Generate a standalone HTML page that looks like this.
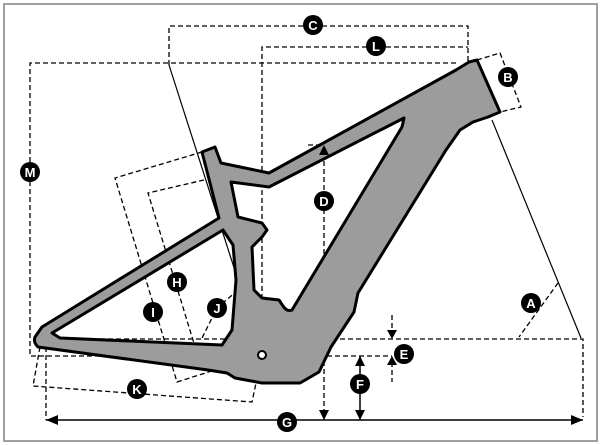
<!DOCTYPE html>
<html><head><style>body{margin:0;background:#fff}svg{display:block}</style></head><body>
<svg width="601" height="445" viewBox="0 0 601 445" xmlns="http://www.w3.org/2000/svg" font-family="Liberation Sans, sans-serif">
<rect x="4" y="4" width="593" height="437" fill="#fff" stroke="#a0a0a0" stroke-width="2"/>
<g fill="none" stroke="#000" stroke-width="1.3" stroke-dasharray="5,3">
<polyline points="169,65 169,26 468,26 468,62"/>
<polyline points="262,355 262,47 468,47"/>
<polyline points="456,63 30,63 30,356 392,356"/>
<polyline points="44,339 583,339 583,417"/>
<line x1="46" y1="339" x2="46" y2="420"/>
<line x1="308" y1="145" x2="324" y2="145"/>
<line x1="324" y1="145" x2="324" y2="420"/>
<line x1="392" y1="315" x2="392" y2="334"/>
<line x1="392" y1="362" x2="392" y2="382"/>
<line x1="558" y1="283" x2="519" y2="337"/>
<polyline points="477,60 500,53 521,107 500,112"/>
<polyline points="202,152 115,178 177,382 262,355"/>
<polyline points="204,180 148,193 200,363"/>
<polyline points="238,290 217,308 202,338"/>
<polyline points="40,347 33,386 252,402 262,355"/>
</g>
<g stroke="#000" stroke-width="1.2">
<line x1="169" y1="65" x2="262" y2="355"/>
<line x1="492" y1="120" x2="581" y2="338"/>
</g>
<path fill-rule="evenodd" fill="#9c9c9c" stroke="#000" stroke-width="3" stroke-linejoin="round"
d="M202,152 L215,147 L221,163 L269,173 L456,70 L469,62 L477,60 L500,112 L488,117 L473,122 L460,130 L446,150 L358,293 L354,312 L331,347 L319,372 L300,383 L262,383 L235,378 L227,373 L208,370 L38,347 Q33,342 35,337 L42,327 L219,218 Z
M52,333 L223,230 L233,245 L236,280 L232,330 L222,345 L60,338 Z
M231,182 L269,187 L404,118 L402,127 L292,310 Q287,312 283,306 L279,300 L262,298 L254,290 L252,247 L262,237 L267,230 L262,223 L238,217 Z"/>
<circle cx="262" cy="355" r="4" fill="#fff" stroke="#000" stroke-width="2"/>
<g stroke="#000" stroke-width="1.5" fill="#000">
<line x1="46" y1="420" x2="583" y2="420"/>
<path d="M46,420 l12,-5 v10z M583,420 l-12,-5 v10z" stroke="none"/>
<path d="M324,145 l-5,10 h10z M324,420 l-5,-10 h10z" stroke="none"/>
<line x1="360" y1="356" x2="360" y2="420"/>
<path d="M360,356 l-5,10 h10z M360,420 l-5,-10 h10z" stroke="none"/>
<path d="M392,339 l-5,-9 h10z M392,356 l-5,9 h10z" stroke="none"/>
</g>
<g fill="#000"><circle cx="313" cy="25" r="10"/><circle cx="376" cy="46" r="10"/><circle cx="508" cy="77" r="10"/><circle cx="30" cy="172" r="10"/><circle cx="324" cy="201" r="10"/><circle cx="177" cy="282" r="10"/><circle cx="153" cy="312" r="10"/><circle cx="217" cy="308" r="10"/><circle cx="531" cy="303" r="10"/><circle cx="404" cy="354" r="10"/><circle cx="360" cy="384" r="10"/><circle cx="137" cy="389" r="10"/><circle cx="287" cy="422" r="10"/></g>
<g fill="#fff" font-size="13" font-weight="bold" text-anchor="middle">
<text x="313" y="30">C</text><text x="376" y="51">L</text><text x="508" y="82">B</text><text x="30" y="177">M</text><text x="324" y="206">D</text><text x="177" y="287">H</text><text x="153" y="317">I</text><text x="217" y="313">J</text><text x="531" y="308">A</text><text x="404" y="359">E</text><text x="360" y="389">F</text><text x="137" y="394">K</text><text x="287" y="427">G</text>
</g>
</svg>
</body></html>
